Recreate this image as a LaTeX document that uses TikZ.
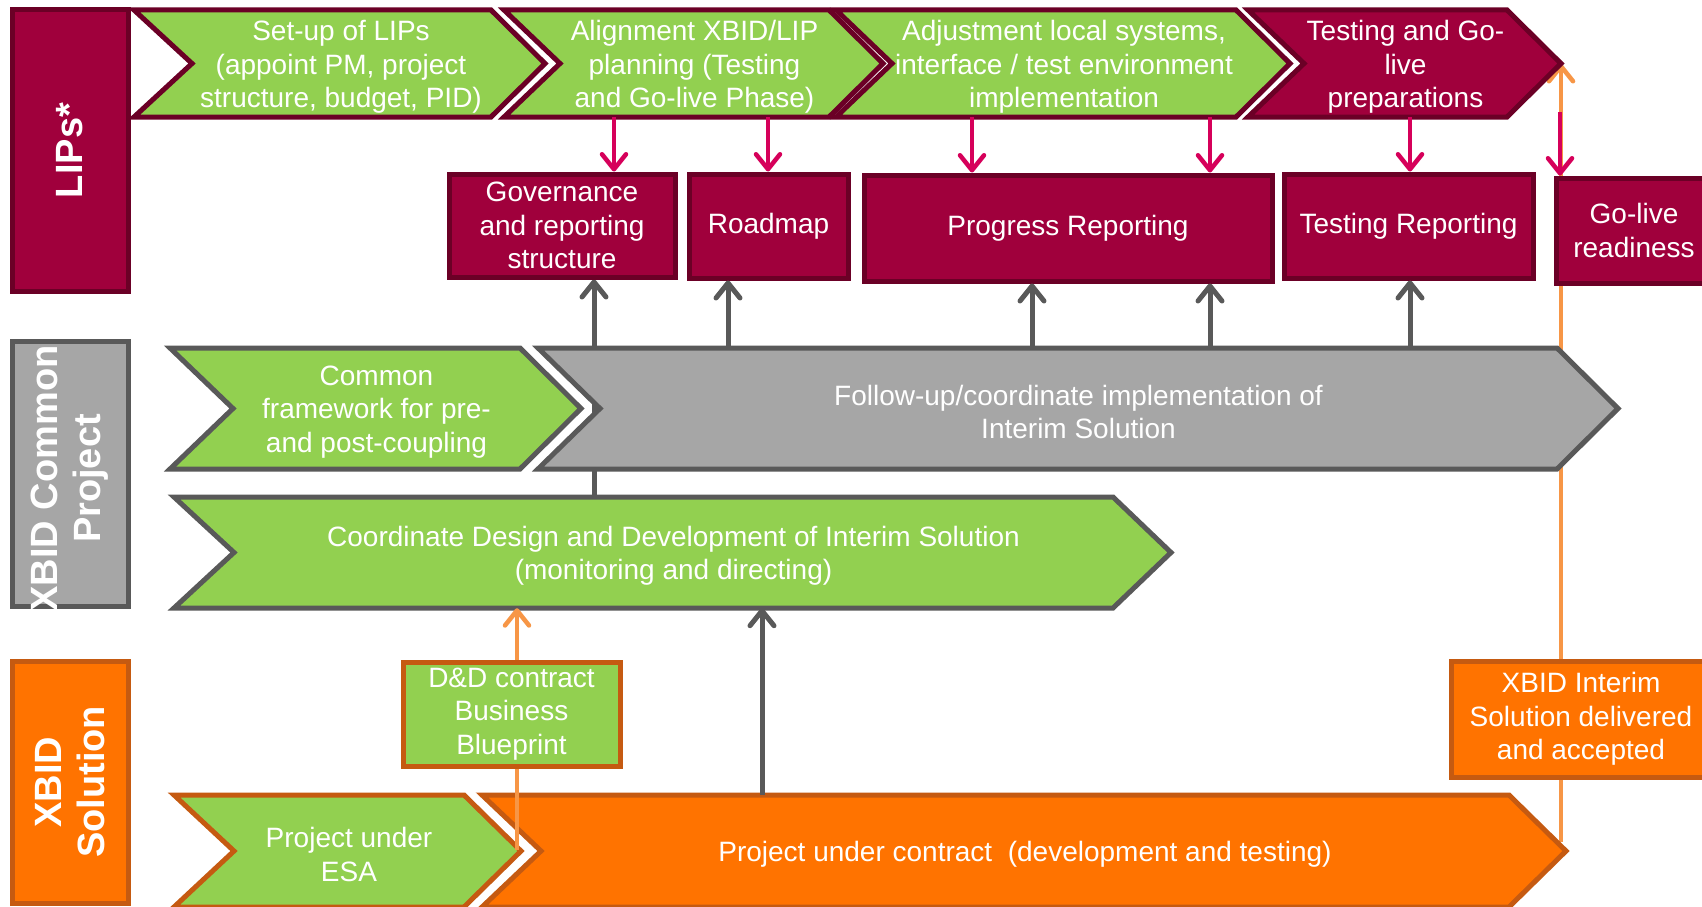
\documentclass[tikz,border=0pt]{standalone}
\usepackage{fontspec}
\setmainfont{Liberation Sans}
\usepackage{tikz}
\usetikzlibrary{arrows.meta}
\usepackage{xcolor}
\definecolor{lipred}{HTML}{A0003C}
\definecolor{lipdark}{HTML}{6B0026}
\definecolor{leaf}{HTML}{92D050}
\definecolor{stone}{HTML}{A6A6A6}
\definecolor{slate}{HTML}{595959}
\definecolor{tang}{HTML}{FF7300}
\definecolor{rust}{HTML}{C55A11}
\definecolor{rosearrow}{HTML}{D6005A}
\definecolor{peach}{HTML}{F79646}
\pgfdeclarelayer{paper}
\pgfdeclarelayer{back}
\pgfsetlayers{paper,back,main}

\begin{document}
\begin{tikzpicture}[x=1pt, y=-1pt,
  txt/.style={text=white, align=center, inner sep=0pt, font=\fontsize{28}{33.5}\selectfont},
  chevtxt/.style={txt, yshift=-3.5pt},
  sidetxt/.style={text=white, align=center, inner sep=0pt, rotate=90, font=\fontsize{38}{43}\selectfont\bfseries},
  bar/.style={line width=5pt, minimum width=116, inner sep=0pt},
  lipbox/.style={txt, fill=lipred, draw=lipdark, line width=5pt},
  lipchev/.style={draw=lipdark, line width=5pt},
  xbidchev/.style={draw=slate, line width=5pt},
  solchev/.style={draw=rust, line width=5pt},
  rosearr/.style={rosearrow, line width=4.5pt, -{Straight Barb[length=15pt,width=24pt,round]}},
  greyarr/.style={slate, line width=5pt, -{Straight Barb[length=15pt,width=24pt,round]}},
  peacharr/.style={peach, line width=4.5pt, -{Straight Barb[length=15pt,width=24pt,round]}}]
\begin{pgfonlayer}{paper}
\fill[white] (0,0) rectangle (1702,907);
\end{pgfonlayer}
\useasboundingbox (0,0) rectangle (1702,907);

% columns of the links
\coordinate (k1) at (614,0);
\coordinate (k2) at (768,0);
\coordinate (k3) at (972,0);
\coordinate (k4) at (1210,0);
\coordinate (k5) at (1410,0);
\coordinate (g1) at (594,0);
\coordinate (g2) at (728,0);
\coordinate (g3) at (1032,0);
\coordinate (g6) at (762,0);
\coordinate (ddfoot) at (517,850);
\coordinate (handover) at (1561,842);
\coordinate (preptip) at (1561,64);
\coordinate (gostart) at (1560,112);

% hand-over line, behind the shapes
\draw[peacharr] (handover) -- (preptip);

% Side bars
\node[bar, fill=lipred, draw=lipdark, minimum height=281] (lipsbar) at (70,150.5) {};
\node[sidetxt] (lipslbl) at (lipsbar) {LIPs*};
\node[bar, fill=stone, draw=slate, minimum height=265] (xbidbar) at (70,473.5) {};
\node[sidetxt] (xbidlbl) at ([yshift=-5pt]xbidbar.center) {XBID Common\\Project};
\node[bar, fill=tang, draw=rust, minimum height=242] (solbar) at (70,782) {};
\node[sidetxt] (sollbl) at (solbar) {XBID\\Solution};

% LIPs row
\draw[lipchev, fill=leaf] (134,10) -- (491,10) -- (545,63.5) -- (491,117) -- (134,117) -- (192,63.5) -- cycle;
\node[chevtxt, minimum height=100] (setup) at (341,63.5) {Set-up of LIPs\\(appoint PM, project\\structure, budget, PID)};
\draw[lipchev, fill=leaf] (504,10) -- (829,10) -- (883,63.5) -- (829,117) -- (504,117) -- (560,63.5) -- cycle;
\node[chevtxt, minimum height=100] (align) at (694.5,63.5) {Alignment XBID/LIP\\planning (Testing\\and Go-live Phase)};
\draw[lipchev, fill=leaf] (836,10) -- (1236,10) -- (1290,63.5) -- (1236,117) -- (836,117) -- (892,63.5) -- cycle;
\node[chevtxt, minimum height=100] (adjust) at (1064,63.5) {Adjustment local systems,\\interface / test environment\\implementation};
\draw[lipchev, fill=lipred] (1248,10) -- (1507,10) -- (1561,63.5) -- (1507,117) -- (1248,117) -- (1304,63.5) -- cycle;
\node[chevtxt, minimum height=100] (prep) at (1405.5,63.5) {Testing and Go-\\live\\preparations};

\node[lipbox, minimum width=226, minimum height=103] (gov) at (562,225.5) {Governance\\and reporting\\structure};
\node[lipbox, minimum width=159, minimum height=104] (road) at (768.5,226) {Roadmap};
\node[lipbox, minimum width=408, minimum height=106] (prog) at (1068,228) {Progress Reporting};
\node[lipbox, minimum width=249, minimum height=104] (testrep) at (1408.5,226) {Testing Reporting};
\node[lipbox, minimum width=155, minimum height=105] (ready) at (1634,230.5) {Go-live\\readiness};

% XBID Common Project row
\draw[xbidchev, fill=leaf] (170,348) -- (520,348) -- (581,408.5) -- (520,469) -- (170,469) -- (233,408.5) -- cycle;
\node[chevtxt, minimum height=128] (frame) at (376.5,408.5) {Common\\framework for pre-\\and post-coupling};
\draw[xbidchev, fill=stone] (538,348) -- (1557,348) -- (1618,408.5) -- (1557,469) -- (538,469) -- (600,408.5) -- cycle;
\node[chevtxt, minimum height=128] (follow) at (1078.5,408.5) {Follow-up/coordinate implementation of\\Interim Solution};
\draw[xbidchev, fill=leaf] (174,497) -- (1113,497) -- (1171,552.5) -- (1113,608) -- (174,608) -- (234,552.5) -- cycle;
\node[chevtxt, minimum height=104] (coord) at (673.5,552.5) {Coordinate Design and Development of Interim Solution\\(monitoring and directing)};

% XBID Solution row
\draw[solchev, fill=leaf] (174,795) -- (464,795) -- (521,851) -- (464,907) -- (174,907) -- (234,851) -- cycle;
\node[chevtxt, minimum height=119] (esa) at (349,851) {Project under\\ESA};
\draw[solchev, fill=tang] (482,795) -- (1509,795) -- (1566,851) -- (1509,907) -- (482,907) -- (541,851) -- cycle;
\node[chevtxt, minimum height=119] (contract) at (1025,851) {Project under contract\ \ (development and testing)};

\draw[peacharr] (ddfoot) -- (coord.south -| ddfoot);
\node[txt, fill=leaf, draw=rust, line width=5pt, minimum width=217, minimum height=104] (dd) at (511.5,714) {D\&D contract\\Business\\Blueprint};
\node[txt, fill=tang, draw=rust, line width=5pt, minimum width=259, minimum height=116] (interim) at (1581,719) {XBID Interim\\Solution delivered\\and accepted};

% Links
\begin{pgfonlayer}{back}
\draw[greyarr] (coord.north -| g1) -- (gov.south -| g1);
\end{pgfonlayer}
\draw[rosearr] (align.south -| k1) -- (gov.north -| k1);
\draw[rosearr] (align.south -| k2) -- (road.north -| k2);
\draw[rosearr] (adjust.south -| k3) -- (prog.north -| k3);
\draw[rosearr] (adjust.south -| k4) -- (prog.north -| k4);
\draw[rosearr] (prep.south -| k5) -- (testrep.north -| k5);
\draw[rosearr] (gostart) -- (ready.north -| gostart);

\draw[greyarr] (follow.north -| g2) -- (road.south -| g2);
\draw[greyarr] (follow.north -| g3) -- (prog.south -| g3);
\draw[greyarr] (follow.north -| k4) -- (prog.south -| k4);
\draw[greyarr] (follow.north -| k5) -- (testrep.south -| k5);
\draw[greyarr] (contract.north -| g6) -- (coord.south -| g6);
\end{tikzpicture}
\end{document}
